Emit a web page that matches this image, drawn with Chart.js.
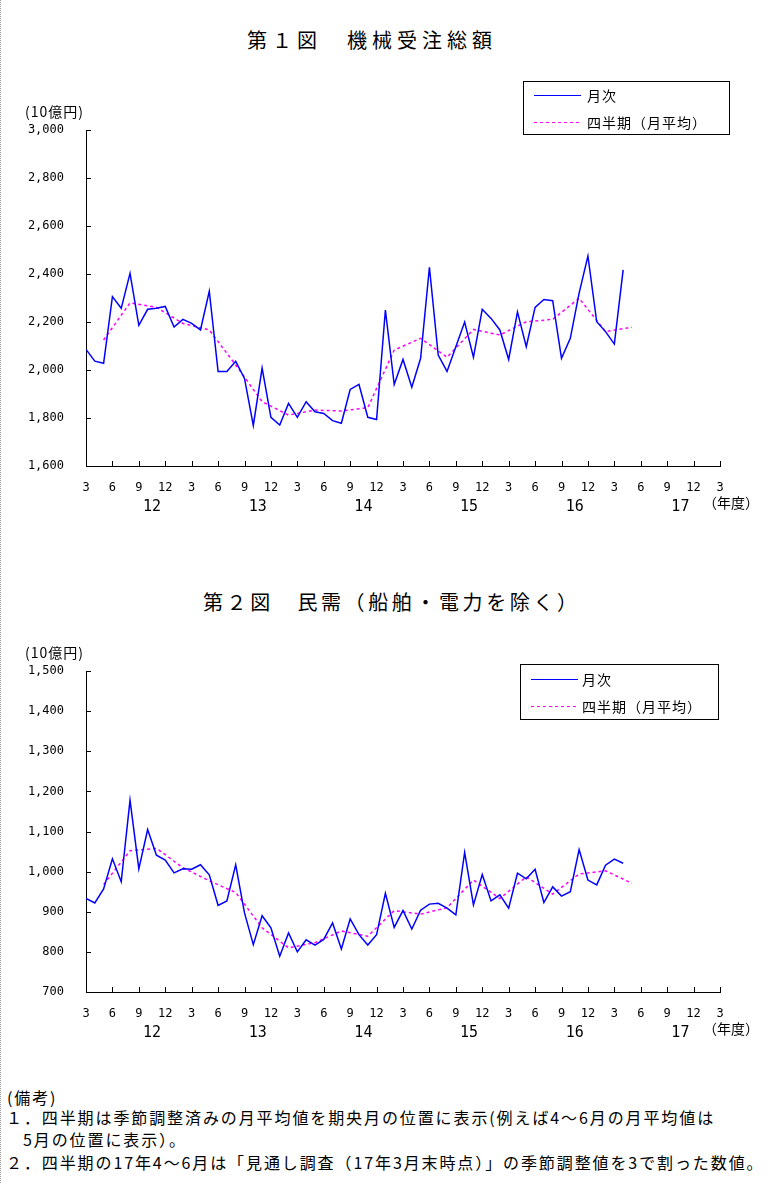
<!DOCTYPE html>
<html lang="ja">
<head>
<meta charset="utf-8">
<title>機械受注</title>
<script src="https://cdn.jsdelivr.net/npm/chart.js@4.4.1/dist/chart.umd.min.js"></script>
<style>
    body { margin: 0; background: #fff; }
    #page { position: relative; width: 772px; height: 1183px; overflow: hidden;
            font-family: "Noto Sans CJK JP", sans-serif; color: #000;
            border-left: 1px dotted #999; box-sizing: border-box; }
    .abs { position: absolute; white-space: nowrap; }
    .title { font-size: 20px; line-height: 20px; }
    .note { font-size: 16px; line-height: 20px; letter-spacing: 1.9px; }
    canvas { position: absolute; left: 0; }
</style>
</head>
<body>
<div id="page">
    <div class="abs title" style="left:246px; top:30px; letter-spacing:5px;">第１図　機械受注総額</div>
    <canvas id="chart1" width="772" height="530" style="top:0px;"></canvas>

    <div class="abs title" style="left:202px; top:592px; letter-spacing:3.6px;">第２図　民需（船舶・電力を除く）</div>
    <canvas id="chart2" width="772" height="515" style="top:541px;"></canvas>

    <div class="abs note" style="left:6px; top:1087px;">(備考)</div>
    <div class="abs note" style="left:5px; top:1107px;">１．四半期は季節調整済みの月平均値を期央月の位置に表示(例えば4～6月の月平均値は</div>
    <div class="abs note" style="left:22px; top:1129px;">5月の位置に表示）。</div>
    <div class="abs note" style="left:5px; top:1152px;">２．四半期の17年4～6月は「見通し調査（17年3月末時点）」の季節調整値を3で割った数値。</div>
</div>

<script>
// Tick labels (x axis: every 3 months from 2012/3 to 2018/3)
const monthLabels = ['3', '6', '9', '12', '3', '6', '9', '12', '3', '6', '9', '12',
    '3', '6', '9', '12', '3', '6', '9', '12', '3', '6', '9', '12', '3'];
const yearLabels = ['12', '13', '14', '15', '16', '17'];

// 機械受注総額 (10億円), monthly from 2012/3 to 2017/4
const totalMonthly = [2086, 2037, 2028, 2306, 2257, 2403, 2186, 2253, 2257, 2265,
    2179, 2211, 2194, 2167, 2328, 1994, 1994, 2036, 1965, 1769,
    2008, 1803, 1771, 1861, 1803, 1868, 1826, 1819, 1789, 1778,
    1919, 1940, 1803, 1794, 2250, 1940, 2044, 1928, 2049, 2428,
    2062, 1994, 2097, 2200, 2053, 2253, 2215, 2167, 2044, 2242,
    2097, 2261, 2294, 2289, 2049, 2132, 2320, 2475, 2201, 2160,
    2108, 2417];
// quarterly (monthly average), shown at the middle month: 2012/5 ... 2017/5
const totalQuarterly = [2125, 2280, 2261, 2194, 2167, 2021, 1868, 1812, 1833, 1829,
    1843, 2083, 2132, 2053, 2169, 2146, 2201, 2211, 2299, 2160, 2178];

// 民需（船舶・電力を除く）
const privateMonthly = [933, 922, 957, 1032, 975, 1178, 1007, 1105, 1041, 1029,
    997, 1007, 1006, 1017, 992, 916, 927, 1017, 897, 818,
    890, 860, 789, 847, 800, 830, 817, 831, 872, 807,
    882, 843, 817, 843, 946, 861, 903, 857, 904, 919,
    921, 909, 892, 1048, 917, 993, 927, 942, 909, 996,
    982, 1006, 923, 962, 939, 950, 1055, 979, 967, 1016,
    1031, 1021];
const privateQuarterly = [968, 1052, 1058, 1010, 977, 948, 860, 810, 823, 852,
    839, 903, 894, 910, 979, 933, 987, 944, 994, 1002, 971];

const numFont = { family: 'DejaVu Sans Mono', size: 12 };

// ticks inside the plot, year labels and unit label
const axisExtras = {
    id: 'axisExtras',
    afterDraw(chart) {
        const { ctx, chartArea, scales: { x, y } } = chart;
        ctx.save();
        ctx.strokeStyle = '#000';
        ctx.lineWidth = 1;
        ctx.beginPath();
        x.ticks.forEach(t => {
            const px = Math.round(x.getPixelForValue(t.value)) + 0.5;
            ctx.moveTo(px, chartArea.bottom);
            ctx.lineTo(px, chartArea.bottom - 5);
        });
        y.ticks.forEach(t => {
            const py = Math.round(y.getPixelForValue(t.value)) + 0.5;
            ctx.moveTo(chartArea.left, py);
            ctx.lineTo(chartArea.left + 5, py);
        });
        ctx.stroke();

        ctx.fillStyle = '#000';
        ctx.textBaseline = 'middle';
        ctx.textAlign = 'center';
        ctx.font = '15px "DejaVu Sans Mono"';
        yearLabels.forEach((label, k) => {
            ctx.fillText(label, x.getPixelForValue(7.5 + 12 * k), chartArea.bottom + 41);
        });
        ctx.textAlign = 'left';
        ctx.font = '14px "Noto Sans CJK JP"';
        ctx.fillText('（年度）', chartArea.right - 17, chartArea.bottom + 37);
        ctx.letterSpacing = '1px';
        ctx.fillText('(10億円)', 24, chartArea.top - 18);
        ctx.restore();
    }
};

const legendBox = {
    id: 'legendBox',
    afterDraw(chart, args, opts) {
        const ctx = chart.ctx;
        ctx.save();
        ctx.strokeStyle = '#000';
        ctx.lineWidth = 1;
        ctx.strokeRect(opts.x + 0.5, opts.y + 0.5, opts.w, opts.h);
        chart.data.datasets.forEach((ds, i) => {
            const yy = Math.round(opts.y + opts.rows[i]) + 0.5;
            ctx.strokeStyle = ds.borderColor;
            ctx.setLineDash(ds.borderDash || []);
            ctx.beginPath();
            ctx.moveTo(opts.x + 11, yy);
            ctx.lineTo(opts.x + 58, yy);
            ctx.stroke();
            ctx.setLineDash([]);
            ctx.fillStyle = '#000';
            ctx.font = '14px "Noto Sans CJK JP"';
            ctx.letterSpacing = '1px';
            ctx.textBaseline = 'middle';
            ctx.fillText(ds.label, opts.x + opts.textX, yy);
        });
        ctx.restore();
    }
};

function makeChart(id, monthly, quarterly, yMin, yMax, yStep, legendPos) {
    return new Chart(document.getElementById(id), {
        type: 'line',
        data: {
            datasets: [{
                label: '月次',
                data: monthly.map((v, i) => ({ x: i, y: v })),
                borderColor: '#0000ff',
                borderWidth: 1.5,
                pointRadius: 0,
                tension: 0
            }, {
                label: '四半期（月平均）',
                data: quarterly.map((v, k) => ({ x: 2 + 3 * k, y: v })),
                borderColor: '#ff00ff',
                borderWidth: 1.5,
                borderDash: [3, 3],
                pointRadius: 0,
                tension: 0
            }]
        },
        options: {
            responsive: false,
            animation: false,
            layout: { padding: { left: 0, right: 53, top: 130, bottom: 0 } },
            plugins: {
                legend: { display: false },
                tooltip: { enabled: false },
                legendBox: legendPos
            },
            scales: {
                x: {
                    type: 'linear',
                    min: 0,
                    max: 72,
                    grid: { display: false, drawTicks: false },
                    border: { display: true, color: '#000', width: 1 },
                    ticks: {
                        stepSize: 3,
                        autoSkip: false,
                        maxRotation: 0,
                        padding: 15,
                        color: '#000',
                        font: numFont,
                        callback: v => monthLabels[Math.round(v / 3)]
                    },
                    afterFit: s => { s.height = 64; }
                },
                y: {
                    min: yMin,
                    max: yMax,
                    grid: { display: false, drawTicks: false },
                    border: { display: true, color: '#000', width: 1 },
                    ticks: {
                        stepSize: yStep,
                        padding: 22,
                        color: '#000',
                        font: numFont,
                        callback: v => v.toLocaleString('en-US')
                    },
                    afterFit: s => { s.width = 85; }
                }
            }
        },
        plugins: [axisExtras, legendBox]
    });
}

makeChart('chart1', totalMonthly, totalQuarterly, 1600, 3000, 200,
    { x: 522, y: 81, w: 206, h: 53, rows: [14, 41], textX: 64 });
makeChart('chart2', privateMonthly, privateQuarterly, 700, 1500, 100,
    { x: 519, y: 123, w: 198, h: 55, rows: [15, 42], textX: 62 });
</script>
</body>
</html>
